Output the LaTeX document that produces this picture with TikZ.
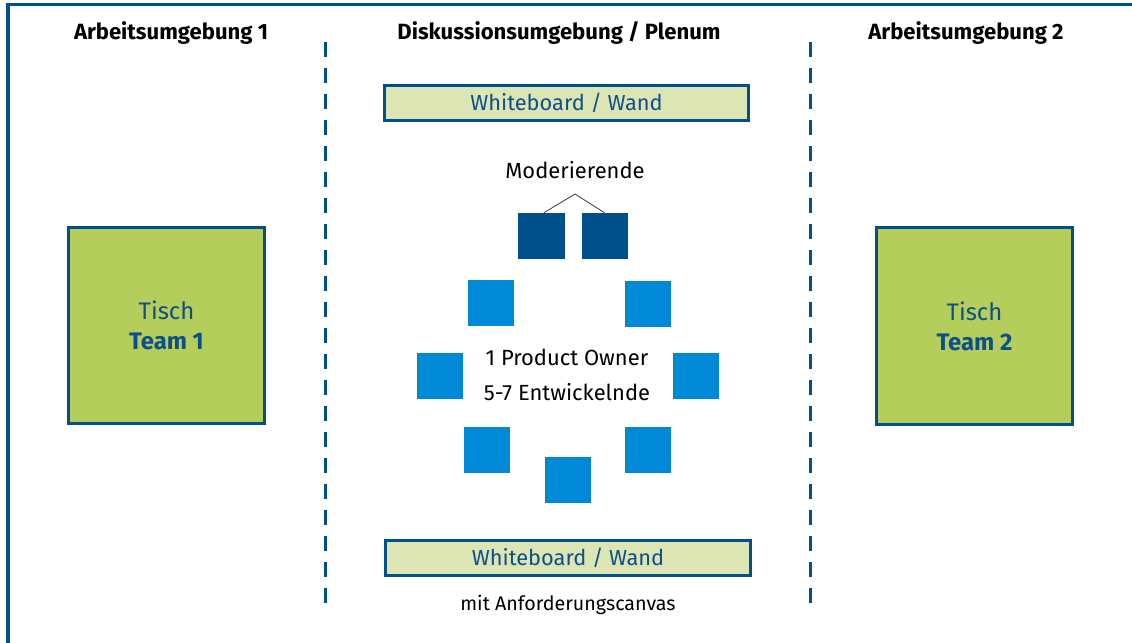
\documentclass[tikz,border=0pt]{standalone}
\usepackage{fontspec}
\setmainfont{Fira Sans}
\usetikzlibrary{positioning}
\definecolor{frameblue}{RGB}{0,80,140}
\definecolor{seatblue}{RGB}{0,137,215}
\definecolor{tablegreen}{RGB}{181,205,91}
\definecolor{boardgreen}{RGB}{221,229,180}
\definecolor{labelblue}{RGB}{12,79,138}

\begin{document}
\begin{tikzpicture}[
  x=0.025cm, y=-0.025cm,
  heading/.style={font=\bfseries\fontsize{15.7}{18}\selectfont, text=black, inner sep=0pt},
  plain/.style={font=\fontsize{15.6}{25}\selectfont, text=black, align=center, inner sep=0pt},
  board/.style={draw=frameblue, line width=0.075cm, fill=boardgreen, minimum width=9.1cm, minimum height=0.875cm, inner sep=0pt, text=labelblue, font=\fontsize{15.5}{17}\selectfont},
  teamtable/.style={draw=frameblue, line width=0.075cm, fill=tablegreen, minimum size=4.9cm, align=center, text=labelblue, font=\fontsize{17}{21.5}\selectfont},
  seat/.style={fill=seatblue, minimum size=1.15cm, inner sep=0pt},
  modseat/.style={fill=frameblue, minimum size=1.15cm, inner sep=0pt},
  divider/.style={draw=frameblue, line width=0.075cm, dash pattern=on 0.375cm off 0.275cm},
  link/.style={draw=black!75, line width=0.6pt}
]
\useasboundingbox (0,0) rectangle (1132,643);

% frame
\draw[frameblue, line width=0.075cm] (8,643) -- (8,5) -- (1132,5);

% headings
\node[heading] (head1) at (171,33) {Arbeitsumgebung 1};
\node[heading] (headp) at (559,33) {Diskussionsumgebung / Plenum};
\node[heading] (head2) at (966,33) {Arbeitsumgebung 2};

% dividers
\coordinate (d1top) at (325,42);
\coordinate (d1bot) at (325,612);
\coordinate (d2top) at (810,42);
\coordinate (d2bot) at (810,612);
\draw[divider] (d1top) -- (d1bot);
\draw[divider] (d2top) -- (d2bot);

% tables
\node[teamtable] (team1) at (166.5,325.5) {Tisch\\\textbf{Team 1}};
\node[teamtable] (team2) at (974.5,326) {Tisch\\\textbf{Team 2}};

% whiteboards
\node[board] (wbtop) at (566.5,103) {Whiteboard / Wand};
\node[board] (wbbot) at (568,558) {Whiteboard / Wand};
\node[plain, font=\fontsize{14}{16}\selectfont, below=0.45cm of wbbot] (canvas) {mit Anforderungscanvas};

% moderators
\node[plain] (modlabel) at (575,170) {Moderierende};
\coordinate (apex) at (575,194);
\node[modseat] (mod1) at (541.5,236) {};
\node[modseat] (mod2) at (604.5,236) {};
\draw[link] (apex) -- ([xshift=0.06cm]mod1.north);
\draw[link] (apex) -- (mod2.north);

% team circle
\node[seat] (s1) at (491,303) {};
\node[seat] (s2) at (648,304) {};
\node[seat] (s3) at (440,376) {};
\node[seat] (s4) at (696,376) {};
\node[seat] (s5) at (487,450) {};
\node[seat] (s6) at (648,450) {};
\node[seat] (s7) at (568,480) {};
\node[plain] (roles) at (567,375) {1 Product Owner\\5-7 Entwickelnde};
\end{tikzpicture}
\end{document}
